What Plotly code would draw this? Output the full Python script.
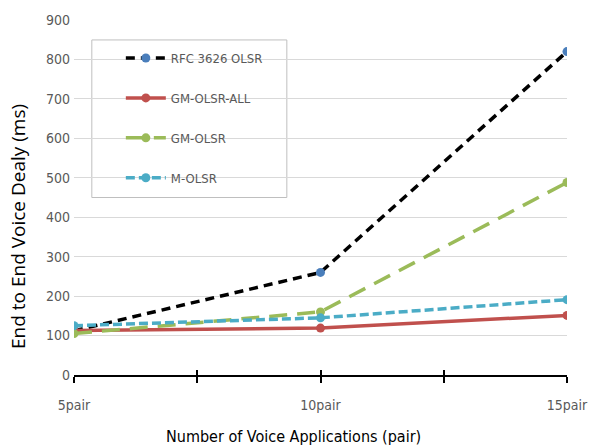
import plotly.graph_objects as go

# Number of simultaneous voice applications (pairs)
pairs = [5, 10, 15]
pair_labels = ["5pair", "", "10pair", "", "15pair"]
pair_ticks = [5, 7.5, 10, 12.5, 15]

# End-to-end voice delay (ms)
rfc3626_olsr = [112, 260, 820]
gm_olsr_all = [113, 119, 151]
gm_olsr = [105, 160, 488]
m_olsr = [125, 145, 191]

series = [
    ("RFC 3626 OLSR", rfc3626_olsr, "#000000", "#4a7ebb", "9px,6px"),
    ("GM-OLSR-ALL", gm_olsr_all, "#c0504d", "#c0504d", "solid"),
    ("GM-OLSR", gm_olsr, "#9bbb59", "#9bbb59", "18px,10px"),
    ("M-OLSR", m_olsr, "#4bacc6", "#4bacc6", "9px,4px"),
]

NARROW = "DejaVu Sans Condensed, Liberation Sans Narrow, Arial Narrow, Arial"

fig = go.Figure()
for i, (name, vals, lc, mc, dash) in enumerate(series):
    fig.add_trace(go.Scatter(
        x=pairs, y=vals, name=name, mode="lines+markers",
        line=dict(color=lc, width=3.5, dash=dash),
        marker=dict(color=mc, size=9, symbol="circle"),
        legendgroup=f"g{i}",
    ))

# second x axis carries the inner half of the crossing tick marks
fig.add_trace(go.Scatter(x=pairs, y=[None] * 3, xaxis="x2", showlegend=False,
                         hoverinfo="skip"))

tick_font = dict(family=NARROW, size=14, color="#595959")

fig.update_layout(
    width=600, height=448,
    margin=dict(l=74, r=28, t=19, b=73),
    paper_bgcolor="white", plot_bgcolor="white",
    showlegend=True,
    legend=dict(
        x=0.095, y=0.935, xanchor="left", yanchor="top",
        bgcolor="rgba(0,0,0,0)", borderwidth=0,
        font=dict(family=NARROW, size=13, color="#595959"),
        tracegroupgap=20, itemwidth=40,
    ),
    xaxis=dict(
        range=[5, 15], tickvals=pair_ticks, ticktext=pair_labels,
        showgrid=False, zeroline=False, showline=True, linecolor="#000000", linewidth=1.5,
        ticks="outside", ticklen=6, tickcolor="#000000", tickwidth=1.5,
        ticklabelstandoff=10,
        tickfont=tick_font,
    ),
    xaxis2=dict(
        range=[5, 15], tickvals=pair_ticks, overlaying="x", side="bottom",
        showticklabels=False, showgrid=False, zeroline=False, showline=False,
        ticks="inside", ticklen=5, tickcolor="#000000", tickwidth=1.5,
    ),
    yaxis=dict(
        range=[0, 900], dtick=100, showgrid=True, gridcolor="#d9d9d9", gridwidth=1,
        zeroline=False, showline=False, ticks="", ticklabelstandoff=3,
        tickfont=tick_font,
    ),
    shapes=[dict(type="rect", xref="paper", yref="paper",
                 x0=(92 - 74) / 498, x1=(289 - 74) / 498,
                 y0=(375 - 197) / 356, y1=(375 - 39) / 356,
                 line=dict(color="#bfbfbf", width=1), fillcolor="white", layer="below")],
    annotations=[
        dict(text="Number of Voice Applications (pair)", xref="paper", yref="paper",
             x=(296 - 74) / 498, y=(375 - 437) / 356, xanchor="center", yanchor="middle",
             showarrow=False, font=dict(family=NARROW, size=16, color="#000000")),
        dict(text="End to End Voice Dealy (ms)", xref="paper", yref="paper",
             x=(18 - 74) / 498, y=(375 - 226) / 356, xanchor="center", yanchor="middle",
             textangle=-90, showarrow=False,
             font=dict(family="Open Sans, Arial", size=19, color="#000000")),
    ],
)

fig.write_html("out.html")
